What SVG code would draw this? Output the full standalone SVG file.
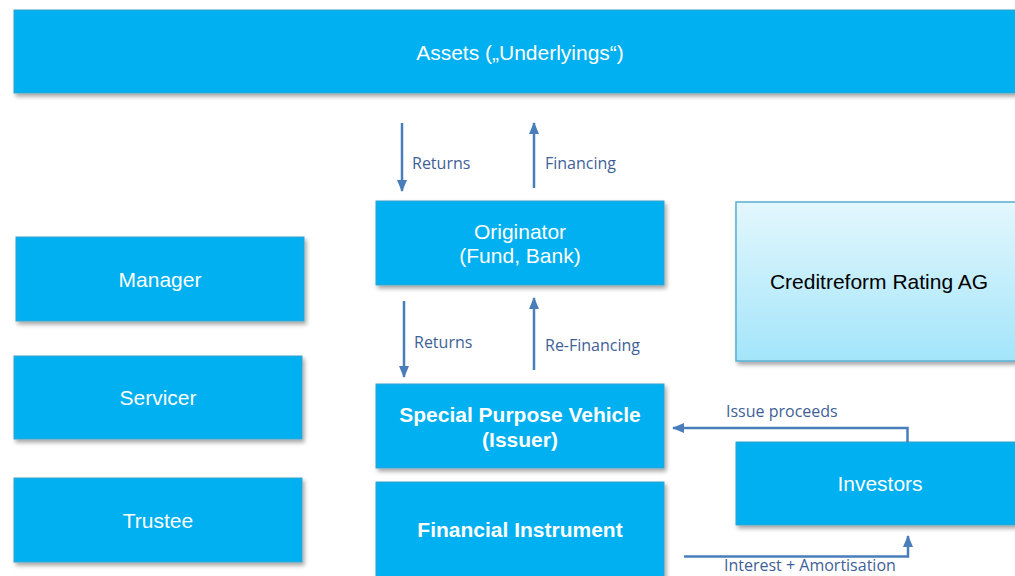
<svg xmlns="http://www.w3.org/2000/svg" width="1015" height="576" viewBox="0 0 1015 576">
<defs>
<filter id="sh" x="-10%" y="-10%" width="130%" height="140%">
<feDropShadow dx="2" dy="3" stdDeviation="2" flood-color="#000" flood-opacity="0.35"/>
</filter>
<linearGradient id="cg" x1="0" y1="0" x2="0" y2="1">
<stop offset="0" stop-color="#e3f7fd"/>
<stop offset="1" stop-color="#a3e5fa"/>
</linearGradient>
<marker id="ah" markerUnits="userSpaceOnUse" markerWidth="12" markerHeight="12" viewBox="0 0 12 12" refX="11" refY="6" orient="auto">
<path d="M0,1 L12,6 L0,11 Z" fill="#4a7ebb"/>
</marker>
<style>
.box{fill:#00b0f0;stroke:#3aa3cc;stroke-width:1;filter:url(#sh)}
.t{font-family:"Liberation Sans",Arial,sans-serif;font-size:21px;fill:#fff;text-anchor:middle}
.b{font-weight:bold}
.lbl{font-family:"Open Sans","Liberation Sans",sans-serif;font-size:16px;fill:#3f5f98}
.ar{fill:none;stroke:#4a7ebb;stroke-width:2.5;marker-end:url(#ah)}
</style>
</defs>
<rect width="1015" height="576" fill="#fff"/>
<g id="assets"><rect class="box" x="14" y="10" width="1010" height="83"/><text class="t" x="520" y="60">Assets („Underlyings“)</text></g>
<g id="originator"><rect class="box" x="376" y="201" width="288" height="84"/><text class="t" x="520" y="239">Originator</text><text class="t" x="520" y="263">(Fund, Bank)</text></g>
<g id="creditreform"><rect x="736" y="202" width="290" height="159" fill="url(#cg)" stroke="#5aaecf" stroke-width="1.5" filter="url(#sh)"/><text class="t" x="879" y="289" style="fill:#000">Creditreform Rating AG</text></g>
<g id="manager"><rect class="box" x="16" y="237" width="288" height="84"/><text class="t" x="160" y="287">Manager</text></g>
<g id="servicer"><rect class="box" x="14" y="356" width="288" height="83"/><text class="t" x="158" y="405">Servicer</text></g>
<g id="trustee"><rect class="box" x="14" y="478" width="288" height="84"/><text class="t" x="158" y="528">Trustee</text></g>
<g id="spv"><rect class="box" x="376" y="384" width="288" height="84"/><text class="t b" x="520" y="422">Special Purpose Vehicle</text><text class="t b" x="520" y="447">(Issuer)</text></g>
<g id="instrument"><rect class="box" x="376" y="482" width="288" height="110"/><text class="t b" x="520" y="537">Financial Instrument</text></g>
<g id="investors"><rect class="box" x="736" y="442" width="290" height="83"/><text class="t" x="880" y="491">Investors</text></g>
<g id="connectors">
<line class="ar" x1="402" y1="123" x2="402" y2="191"/>
<line class="ar" x1="534" y1="188" x2="534" y2="123"/>
<line class="ar" x1="404" y1="301" x2="404" y2="377"/>
<line class="ar" x1="534" y1="370" x2="534" y2="298"/>
<polyline class="ar" points="907.5,442 907.5,428 673,428"/>
<polyline class="ar" points="684,556.5 908,556.5 908,536"/>
<text class="lbl" x="412" y="169">Returns</text>
<text class="lbl" x="545" y="169">Financing</text>
<text class="lbl" x="414" y="348">Returns</text>
<text class="lbl" x="545" y="351">Re-Financing</text>
<text class="lbl" x="726" y="417">Issue proceeds</text>
<text class="lbl" x="724" y="571">Interest + Amortisation</text>
</g>
</svg>
